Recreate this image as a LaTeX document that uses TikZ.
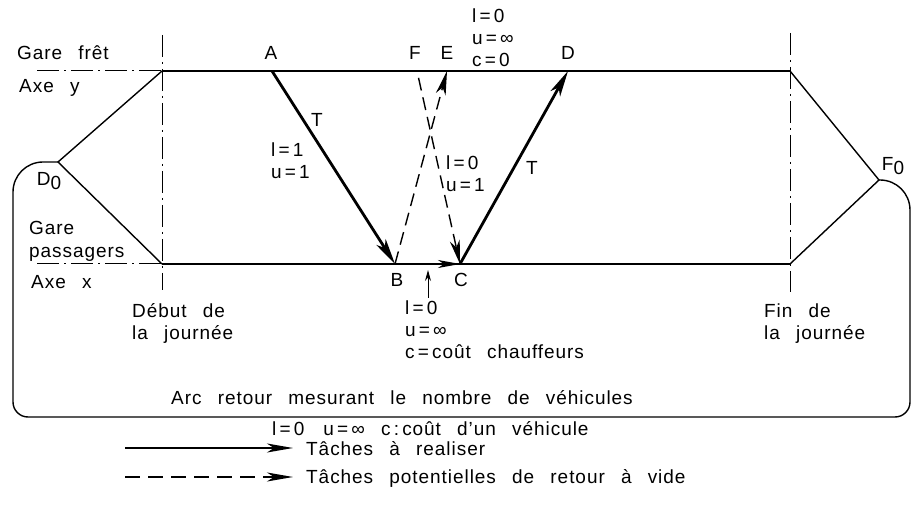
\documentclass[tikz,border=0pt]{standalone}
\usepackage{fontspec}
\setmainfont{Liberation Sans}[WordSpace=2.6, LetterSpace=5]
\usetikzlibrary{arrows.meta, positioning}

\begin{document}
\begin{tikzpicture}[x=1pt, y=-1pt,
  every node/.style={font=\fontsize{19}{22}\selectfont, inner sep=1pt},
  trait/.style={line width=1.4pt},
  guide/.style={line width=1pt, dash pattern=on 22pt off 5pt on 2pt off 5pt},
  tache/.style={line width=2.8pt, -{Stealth[length=26pt, width=11pt, inset=7pt]}},
  vide/.style={line width=1.4pt, dash pattern=on 13pt off 7pt,
               -{Stealth[length=24pt, width=10pt, inset=7pt]}},
  lbl/.style={align=left, anchor=west},
  pt/.style={inner sep=0pt}
]
\useasboundingbox (0,0) rectangle (913,521);

% points du reseau
\coordinate (D0) at (58,162);
\coordinate (F0) at (879,180);
\coordinate (Y0) at (162,71);
\coordinate (Y1) at (790,71);
\coordinate (X0) at (162,264);
\coordinate (X1) at (790,264);
\coordinate (A) at (272,71);
\coordinate (B) at (395,264);
\coordinate (C) at (460,264);
\coordinate (D) at (568,71);
\coordinate (E) at (447,71);
\coordinate (F) at (417,71);

% axes et debut / fin de journee
\draw[guide] (37,71) -- (Y0);
\draw[guide] (37,264) -- (X0);
\draw[guide] (162,35) -- (162,290);
\draw[guide] (790,33) -- (790,292);
\draw[trait] (Y0) -- (Y1);
\draw[trait] (X0) -- (X1);
\draw[trait] (Y0) -- (D0) -- (X0);
\draw[trait] (Y1) -- (F0) -- (X1);

% arc retour
\draw[trait, rounded corners=30pt] (D0) -- (13,162)
  [rounded corners=15pt] -- (13,417) -- (910,417)
  [rounded corners=30pt] -- (910,180) -- (F0);

% taches
\draw[tache] (A) -- (B);
\draw[tache] (C) -- (D);
\draw[vide] (B) -- (E);
\draw[vide, shorten <=7pt] (F) -- (C);
\draw[trait, -{Stealth[length=22pt, width=8pt, inset=6pt]}] (B) -- (C);

% etiquettes
\node[lbl] (gf) at (16,53) {Gare frêt};
\node[lbl] (ay) at (18,88) {Axe y};
\node[lbl] (gp) at (28,241) {Gare\\[1pt]passagers};
\node[lbl] (ax) at (30,282) {Axe x};
\node (d0) at (49,181) {D\raisebox{-4pt}{0}};
\node (f0) at (893,166) {F\raisebox{-4pt}{0}};
\node[lbl] (deb) at (131,323) {Début de\\la journée};
\node[lbl] (fin) at (763,324) {Fin de\\la journée};

\node (la) at (271,53) {A};
\node (lf) at (415,53) {F};
\node (le) at (447,53) {E};
\node (ld) at (568,53) {D};
\node (lb) at (397,280) {B};
\node (lc) at (461,280) {C};
\node (t1) at (317,120) {T};
\node (t2) at (532,168) {T};

\node[lbl] (ab) at (270,161) {l\,=\,1\\u\,=\,1};
\node[lbl] (fc) at (445,174) {l\,=\,0\\u\,=\,1};
\node[lbl] (yy) at (471,38) {l\,=\,0\\u\,=\,∞\\c\,=\,0};
\node[lbl] (ch) at (404,330) {l\,=\,0\\u\,=\,∞\\c\,=\,coût chauffeurs};
\coordinate (chb) at (428,298);
\coordinate (bc) at (428,264);
\draw[line width=1pt, -{Stealth[length=11pt, width=6pt]}, shorten >=6pt] (chb) -- (bc);

\node (arc) at (402,398) {Arc retour mesurant le nombre de véhicules};
\node[lbl] (vc) at (271,429) {l\,=\,0\quad u\,=\,∞ c\,:\,coût d’un véhicule};

% legende
\coordinate (L1a) at (125,448);
\coordinate (L1b) at (293,448);
\coordinate (L2a) at (125,477);
\coordinate (L2b) at (293,477);
\draw[line width=2pt, -{Stealth[length=26pt, width=9pt, inset=7pt]}] (L1a) -- (L1b);
\draw[line width=1.6pt, dash pattern=on 15pt off 8pt,
      -{Stealth[length=26pt, width=9pt, inset=7pt]}] (L2a) -- (L2b);
\node[lbl] (leg1) at (305,449) {Tâches à realiser};
\node[lbl] (leg2) at (305,478) {Tâches potentielles de retour à vide};
\end{tikzpicture}
\end{document}
